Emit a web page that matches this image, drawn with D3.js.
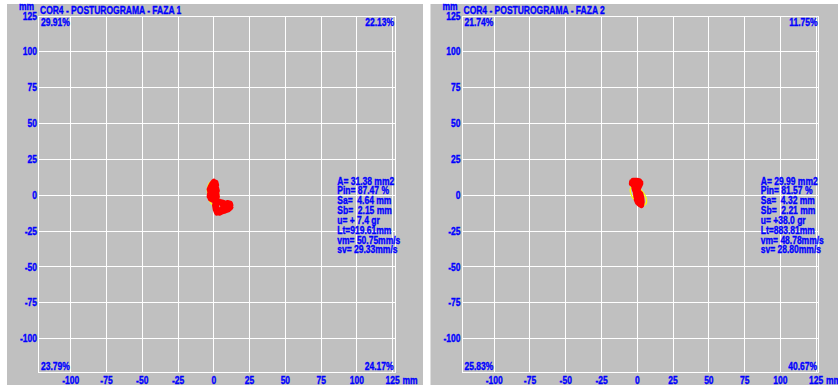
<!DOCTYPE html>
<html>
<head>
<meta charset="utf-8">
<script src="https://cdn.jsdelivr.net/npm/d3@7"></script>
<style>
  html, body { margin: 0; padding: 0; background: #ffffff; }
  svg { display: block; }
  text { font-family: "Liberation Sans", Arial, sans-serif; font-weight: bold; font-size: 10px; fill: #0000ff; stroke: #0000ff; stroke-width: 0.35px; white-space: pre; }
</style>
</head>
<body>
<svg id="chart" width="838" height="385"></svg>
<script>
// ---- data ----
const titles = ["COR4 - POSTUROGRAMA - FAZA 1", "COR4 - POSTUROGRAMA - FAZA 2"];
const xTicks = [-100, -75, -50, -25, 0, 25, 50, 75, 100, 125];
const yTicks = [125, 100, 75, 50, 25, 0, -25, -50, -75, -100];
// quadrant percentages: top-left, top-right, bottom-left, bottom-right
const quadrantPct = [
  ["29.91%", "22.13%", "23.79%", "24.17%"],
  ["21.74%", "11.75%", "25.83%", "40.67%"]
];
const areaMm2 = [31.38, 29.99];
const pinPct = [87.47, 81.57];
const saMm = [4.64, 4.32];
const sbMm = [2.15, 2.21];
const uDeg = [7.4, 38.0];
const ltMm = [919.61, 883.81];
const vmMms = [50.75, 48.78];
const svMms = [29.33, 28.80];
const ellipseCenter = [[-0.5, 1.2], [0.77, -0.35]];

// centre-of-pressure traces (mm)
const trace1 = [
  [-1,2],[0,5],[1,8.5],[0,9.8],[-1.5,8],[-2.5,6],[-3.3,4],[-2,3],[-1,6],[1,7],[2,5],[2.5,3],
  [1,1],[-1,0],[-3,1],[-3.3,-1],[-2,-2],[0,-1],[2,0],[1.5,-3],[-1,-3.5],[-2.5,-2.5],[-2,0.5],
  [0,2.5],[2,2],[2.5,-1],[1,-4.5],[0.5,-7],[1,-10],[2,-12.5],[4,-11],[5.5,-9.5],[7,-10],
  [9,-9.5],[11,-8.5],[12,-7],[11.5,-5.5],[9.5,-5],[8,-6.5],[7,-5],[5,-4.5],[3,-5],[2,-7.5],
  [2.5,-10],[4,-12.5],[6,-11.5],[8,-11],[10.5,-10],[12,-8.5],[10,-7],[7.5,-8],[6.2,-8],
  [5.8,-5.5],[3.5,-4],[1.5,-5.5],[0.5,-3],[-1,-1],[-2.5,1],[-3,3],[-2,5.5],[-0.5,7.5],
  [1.5,9],[2,7],[0.5,4],[-1,3]
];
const trace2 = [
  [-1,9],[1,10],[2.5,9],[2,7.5],[0,8],[-2,9.5],[-4,9.5],[-4.2,8],[-2.5,7],[-1,7.5],[0.5,6],
  [-1,4.5],[-2.4,5],[-2,3.5],[-1,2],[0.5,3],[1,5],[2.5,8],[1.5,10.2],[-0.5,10.5],[-3,10.5],
  [-4,8.5],[-2.4,6],[-1.5,4],[-1.2,1],[0,-1],[-0.8,-3],[0,-5],[1.5,-6.5],[3,-7.3],[3.4,-5],
  [3.3,-3],[3,-1],[2.5,1],[1,2.5],[0,0],[1,-2],[2.5,-3.5],[3,-5.5],[1.5,-4],[-0.5,-2],
  [-1.2,0],[-0.5,2],[1.5,0.5],[3.2,-2],[3.4,-4.5],[3,-7],[1,-6],[0.5,-3.5],[-1,-1],
  [-1.3,1.5],[-1.8,4],[-2,6],[0,7],[2,8.5]
];
const traces = [trace1, trace2];

// ---- layout ----
const SX = 0.85;               // horizontal squeeze of the bitmap-like font
const panelX = [0, 423.5];
const ellipseScale = 1.8;

const svg = d3.select("#chart");

function label(g, x, y, str, anchor) {
  return g.append("text")
    .attr("transform", `translate(${x},${y}) scale(${SX},1)`)
    .attr("text-anchor", anchor || "start")
    .text(str);
}

const fmt2 = d3.format(".2f");
function pad(s, n) { while (s.length < n) s = " " + s; return s; }
function signed(v) { return "+" + pad(v.toFixed(1), 4); }

titles.forEach((title, i) => {
  const g = svg.append("g").attr("transform", `translate(${panelX[i]},0)`);

  g.append("rect").attr("x", 7).attr("y", 4).attr("width", 416).attr("height", 381).attr("fill", "#c0c0c0");

  const x = d3.scaleLinear().domain([-100, 125]).range([70.7, 392.7]);
  const y = d3.scaleLinear().domain([125, -100]).range([16, 338.6]);
  const left = 38.7, right = 395.3, top = 16, bottom = 372.3;

  const grid = g.append("g").attr("stroke", "#ffffff").attr("stroke-width", 1).attr("shape-rendering", "crispEdges");
  grid.selectAll("line.v").data(xTicks).join("line")
    .attr("x1", d => x(d)).attr("x2", d => x(d)).attr("y1", top).attr("y2", bottom);
  grid.selectAll("line.h").data(yTicks.filter(d => d < 125)).join("line")
    .attr("y1", d => y(d)).attr("y2", d => y(d)).attr("x1", left).attr("x2", right);
  grid.append("rect").attr("x", left).attr("y", top).attr("width", right - left).attr("height", bottom - top)
    .attr("fill", "none");

  // axis labels
  yTicks.forEach(t => label(g, 37, y(t) + 3.6, String(t), "end"));
  label(g, 34, 10, "mm", "end");
  xTicks.forEach(t => label(g, x(t), 383.5, String(t), "middle"));
  label(g, 402.5, 383.5, "mm", "start");

  label(g, 40, 13.5, title, "start");

  const q = quadrantPct[i];
  label(g, 41, 26, q[0], "start");
  label(g, 394, 26, q[1], "end");
  label(g, 41, 370, q[2], "start");
  label(g, 393.5, 370, q[3], "end");

  // sway ellipse
  const pxPerMm = (x(25) - x(0)) / 25;
  const c = ellipseCenter[i];
  g.append("ellipse")
    .attr("cx", x(c[0])).attr("cy", y(c[1]))
    .attr("rx", sbMm[i] * ellipseScale * pxPerMm)
    .attr("ry", saMm[i] * ellipseScale * pxPerMm)
    .attr("transform", `rotate(${-uDeg[i]},${x(c[0])},${y(c[1])})`)
    .attr("fill", "none").attr("stroke", "#ffff00").attr("stroke-width", 1.3);

  // trace
  const line = d3.line().x(d => x(d[0])).y(d => y(d[1]));
  g.append("path").attr("d", line(traces[i]))
    .attr("fill", "none").attr("stroke", "#ff0000").attr("stroke-width", 5)
    .attr("stroke-linecap", "round").attr("stroke-linejoin", "round");

  // statistics
  const stats = [
    "A= " + fmt2(areaMm2[i]) + " mm2",
    "Pin= " + fmt2(pinPct[i]) + " %",
    "Sa= " + pad(fmt2(saMm[i]), 5) + " mm",
    "Sb= " + pad(fmt2(sbMm[i]), 5) + " mm",
    "u= " + signed(uDeg[i]) + " gr",
    "Lt=" + fmt2(ltMm[i]) + "mm",
    "vm= " + fmt2(vmMms[i]) + "mm/s",
    "sv= " + fmt2(svMms[i]) + "mm/s"
  ];
  stats.forEach((s, k) => label(g, 337.3, 184.5 + k * 9.85, s, "start"));
});
</script>
</body>
</html>
